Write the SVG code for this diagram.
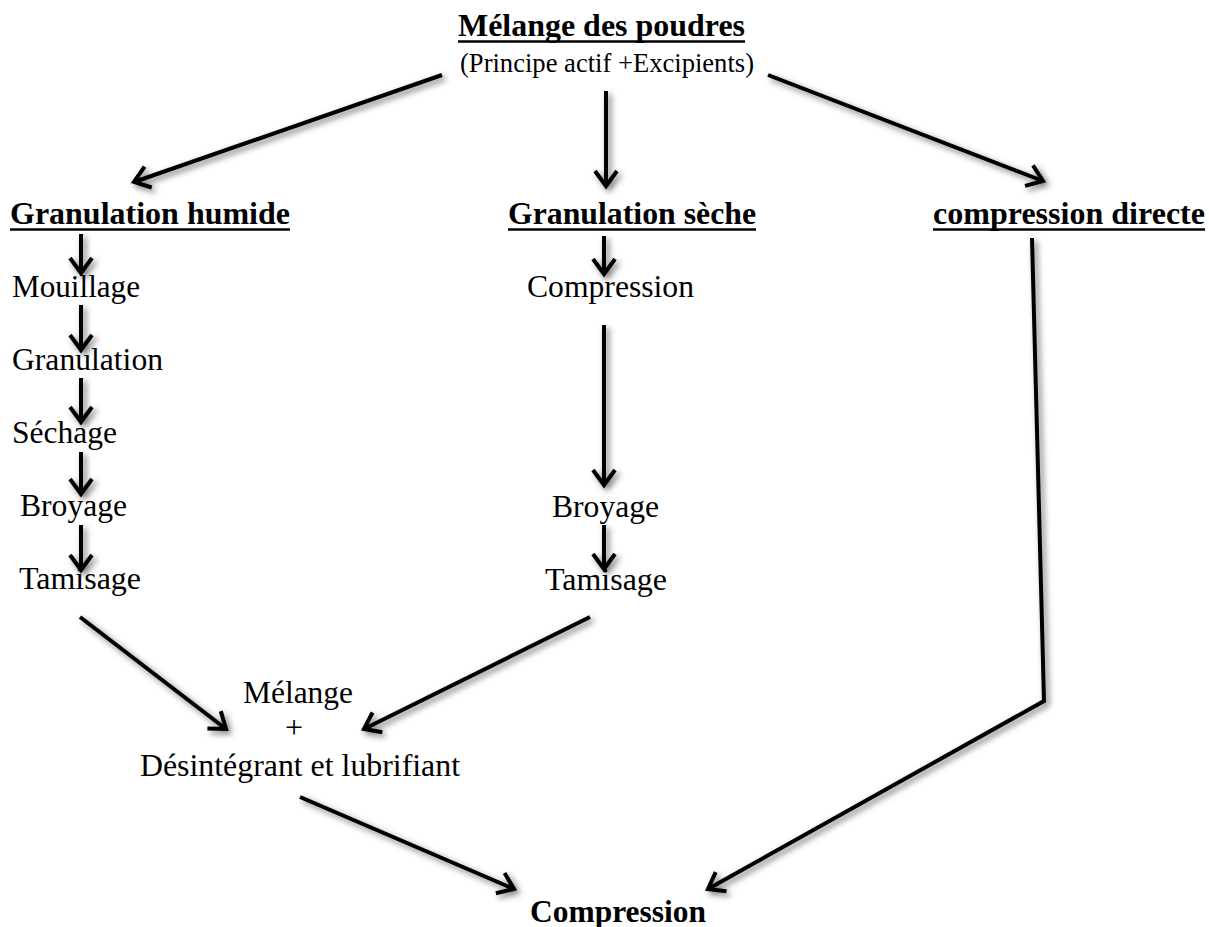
<svg xmlns="http://www.w3.org/2000/svg" width="1209" height="927" viewBox="0 0 1209 927">
<style>
text{font-family:"Liberation Serif","Times New Roman",serif;fill:#000}
.b{font-weight:bold;font-size:32px}
.r{font-size:32px}
.s{font-size:27px}
.ul{stroke:#000;stroke-width:2.5}
.c{fill:none;stroke:#000;stroke-width:4;stroke-linejoin:miter}
</style>
<defs>
<marker id="ah" markerUnits="userSpaceOnUse" viewBox="-22 -14 26 28" refX="0" refY="0" markerWidth="26" markerHeight="28" orient="auto">
<path d="M-15,-11 L0,0 L-15,11" fill="none" stroke="#000" stroke-width="4"/>
</marker>
<filter id="sh" x="-10%" y="-10%" width="120%" height="120%">
<feDropShadow dx="3" dy="3" stdDeviation="3" flood-color="#000" flood-opacity="0.55"/>
</filter>
</defs>
<rect width="1209" height="927" fill="#fff"/>

<g id="connectors" filter="url(#sh)">
<g class="c" marker-end="url(#ah)">
<line x1="442" y1="75" x2="134" y2="182"/>
<line x1="606" y1="91" x2="606" y2="186"/>
<line x1="768" y1="75" x2="1043" y2="181"/>
<line x1="81" y1="234" x2="81" y2="273"/>
<line x1="81" y1="305" x2="81" y2="350"/>
<line x1="81" y1="378" x2="81" y2="422"/>
<line x1="81" y1="452" x2="81" y2="494"/>
<line x1="81" y1="525" x2="81" y2="570"/>
<line x1="604" y1="236" x2="604" y2="274"/>
<line x1="604" y1="325" x2="604" y2="485"/>
<line x1="604" y1="525" x2="604" y2="569"/>
<line x1="80" y1="617" x2="226" y2="729"/>
<line x1="590" y1="617" x2="364" y2="729"/>
<line x1="300" y1="797" x2="514" y2="889"/>
<polyline points="1032,238 1044,701 708,889"/>
</g>
</g>

<g id="n-melange-poudres">
<text class="b" x="601.5" y="36" text-anchor="middle" textLength="287" lengthAdjust="spacingAndGlyphs">Mélange des poudres</text>
<line class="ul" x1="458" y1="41.5" x2="745" y2="41.5"/>
<text class="s" x="607" y="72" text-anchor="middle" textLength="294" lengthAdjust="spacingAndGlyphs">(Principe actif +Excipients)</text>
</g>

<g id="n-granulation-humide">
<text class="b" x="10" y="224" textLength="280" lengthAdjust="spacingAndGlyphs">Granulation humide</text>
<line class="ul" x1="10" y1="229.5" x2="290" y2="229.5"/>
</g>
<g id="n-mouillage"><text class="r" x="12" y="297" textLength="128" lengthAdjust="spacingAndGlyphs">Mouillage</text></g>
<g id="n-granulation"><text class="r" x="12" y="370" textLength="151" lengthAdjust="spacingAndGlyphs">Granulation</text></g>
<g id="n-sechage"><text class="r" x="12" y="443" textLength="105" lengthAdjust="spacingAndGlyphs">Séchage</text></g>
<g id="n-broyage-h"><text class="r" x="20" y="516" textLength="107" lengthAdjust="spacingAndGlyphs">Broyage</text></g>
<g id="n-tamisage-h"><text class="r" x="19" y="589" textLength="122" lengthAdjust="spacingAndGlyphs">Tamisage</text></g>

<g id="n-granulation-seche">
<text class="b" x="508" y="224" textLength="248" lengthAdjust="spacingAndGlyphs">Granulation sèche</text>
<line class="ul" x1="508" y1="229.5" x2="756" y2="229.5"/>
</g>
<g id="n-compression-s"><text class="r" x="527" y="297" textLength="167" lengthAdjust="spacingAndGlyphs">Compression</text></g>
<g id="n-broyage-s"><text class="r" x="552" y="517" textLength="107" lengthAdjust="spacingAndGlyphs">Broyage</text></g>
<g id="n-tamisage-s"><text class="r" x="545" y="590" textLength="122" lengthAdjust="spacingAndGlyphs">Tamisage</text></g>

<g id="n-compression-directe">
<text class="b" x="933" y="224" textLength="272" lengthAdjust="spacingAndGlyphs">compression directe</text>
<line class="ul" x1="933" y1="229.5" x2="1205" y2="229.5"/>
</g>

<g id="n-melange">
<text class="r" x="298" y="703" text-anchor="middle" textLength="110" lengthAdjust="spacingAndGlyphs">Mélange</text>
<text class="r" x="294" y="738" text-anchor="middle">+</text>
<text class="r" x="300" y="776" text-anchor="middle" textLength="320" lengthAdjust="spacingAndGlyphs">Désintégrant et lubrifiant</text>
</g>

<g id="n-compression">
<text class="b" x="618" y="922" text-anchor="middle" textLength="176" lengthAdjust="spacingAndGlyphs">Compression</text>
</g>
</svg>
